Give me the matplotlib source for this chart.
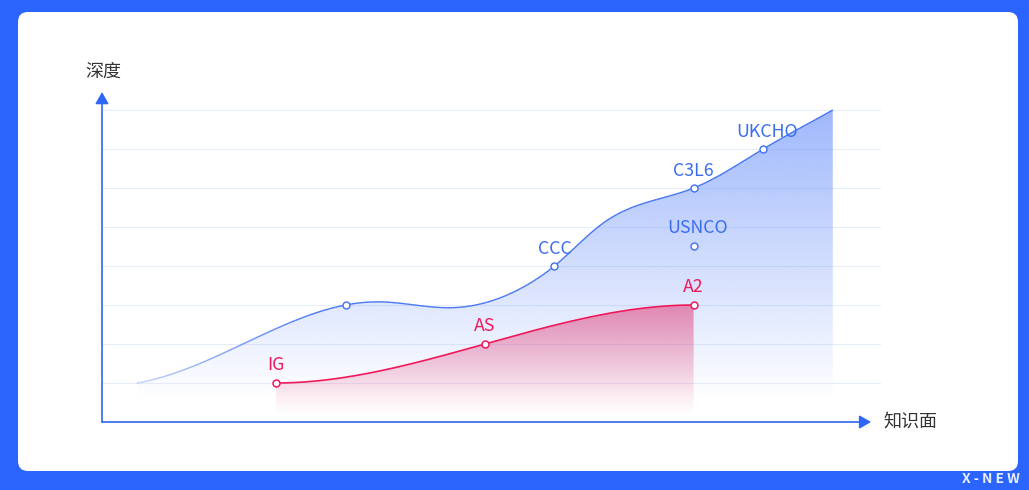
import numpy as np
import matplotlib
matplotlib.use('Agg')
import matplotlib.pyplot as plt
from matplotlib.patches import FancyBboxPatch, Polygon
from matplotlib.collections import LineCollection
from matplotlib.colors import to_rgb

plt.rcParams['font.family'] = ['Noto Sans CJK SC', 'DejaVu Sans']

# courbe bleue
blue_x = [1, 3.2, 7, 8.0, 10, 12.3, 13, 14.4, 17, 19, 21]
blue_y = [1.0, 1.65, 3.0, 3.08, 2.93, 3.56, 4.0, 5.1, 6.0, 7.0, 8.0]
blue_pts_x = [7, 13, 17, 19]
blue_pts_y = [3, 4, 6, 7]
blue_labels = ['', 'CCC', 'C3L6', 'UKCHO']
usnco_x, usnco_y = 17, 4.5

# courbe rouge
red_x = [5, 11, 17]
red_y = [1, 2, 3]
red_labels = ['IG', 'AS', 'A2']

grid_levels = [1, 2, 3, 4, 5, 6, 7, 8]

BLUE = '#3f70f4'
RED = '#f01a5b'
W, H = 1029, 490


def spline(xs, ys, s0, s1, n=400):
    # spline cubique avec pentes imposees aux bouts
    xs = np.asarray(xs, float)
    ys = np.asarray(ys, float)
    k = len(xs)
    h = np.diff(xs)
    A = np.zeros((k, k))
    r = np.zeros(k)
    A[0, 0], A[0, 1] = 2*h[0], h[0]
    r[0] = 6*((ys[1]-ys[0])/h[0] - s0)
    A[-1, -2], A[-1, -1] = h[-1], 2*h[-1]
    r[-1] = 6*(s1 - (ys[-1]-ys[-2])/h[-1])
    for i in range(1, k-1):
        A[i, i-1], A[i, i], A[i, i+1] = h[i-1], 2*(h[i-1]+h[i]), h[i]
        r[i] = 6*((ys[i+1]-ys[i])/h[i] - (ys[i]-ys[i-1])/h[i-1])
    M = np.linalg.solve(A, r)
    xx = np.linspace(xs[0], xs[-1], n)
    j = np.clip(np.searchsorted(xs, xx) - 1, 0, k-2)
    a = xs[j+1] - xx
    b = xx - xs[j]
    yy = (M[j]*a**3 + M[j+1]*b**3)/(6*h[j]) + (ys[j]/h[j] - M[j]*h[j]/6)*a \
        + (ys[j+1]/h[j] - M[j+1]*h[j]/6)*b
    return xx, yy


def gradient_fill(ax, x, y, color, a_top, y_top, y_zero, zorder):
    verts = np.vstack([np.column_stack([x, y]), [[x[-1], 0], [x[0], 0]]])
    poly = Polygon(verts, closed=True, facecolor='none', edgecolor='none')
    ax.add_patch(poly)
    r, g, b = to_rgb(color)
    lv = np.linspace(0, y_top, 300)
    img = np.zeros((300, 1, 4))
    img[:, :, 0], img[:, :, 1], img[:, :, 2] = r, g, b
    img[:, 0, 3] = a_top*np.clip((lv - y_zero)/(y_top - y_zero), 0, 1)
    im = ax.imshow(img, extent=[x[0], x[-1], 0, y_top], origin='lower',
                   aspect='auto', zorder=zorder, interpolation='bilinear')
    im.set_clip_path(poly)


fig = plt.figure(figsize=(W/100, H/100), dpi=100)
fig.patch.set_facecolor('#2b65fe')

bg = fig.add_axes([0, 0, 1, 1])
bg.set_xlim(0, W)
bg.set_ylim(H, 0)
bg.set_axis_off()
bg.add_patch(FancyBboxPatch((18, 12), 1000, 459, boxstyle='round,pad=0,rounding_size=10',
                            facecolor='white', edgecolor='none'))
bg.text(991, 479, 'X - N E W', color='white', fontsize=10, ha='center', va='center',
        fontweight='bold', alpha=0.9)

ux = 34.8
uy = 39
ax = fig.add_axes([102/W, (H-422)/H, (881-102)/W, 8.5*uy/H])
ax.set_facecolor('none')
xmax = (881-102)/ux

for lv in grid_levels:
    ax.axhline(lv, color='#e8edfa', lw=0.8, zorder=1)

# zone bleue
bx, by = spline(blue_x, blue_y, 0.15, 0.5)
gradient_fill(ax, bx, by, '#5f88fb', 0.6, 8.0, 0.6, 2)
t = np.clip((bx - 1) / 5.0, 0, 1)
alphas = 0.3 + 0.7*t
seg = np.stack([np.column_stack([bx[:-1], by[:-1]]), np.column_stack([bx[1:], by[1:]])], axis=1)
cols = [(*to_rgb(BLUE), a) for a in alphas[:-1]]
ax.add_collection(LineCollection(seg, colors=cols, lw=1.0, zorder=4))

# zone rouge
rx, ry = spline(red_x, red_y, 0.0, 0.0)
gradient_fill(ax, rx, ry, '#e2407a', 0.58, 3.0, 0.2, 3)
ax.plot(rx, ry, color=RED, lw=1.2, zorder=5)

ax.plot(blue_pts_x + [usnco_x], blue_pts_y + [usnco_y], ls='none', marker='o', ms=5,
        mfc='white', mec=BLUE, mew=1.0, zorder=6)
ax.plot(red_x, red_y, ls='none', marker='o', ms=5, mfc='white', mec=RED, mew=1.1, zorder=6)

for x, y, s in zip(blue_pts_x, blue_pts_y, blue_labels):
    if s:
        ax.annotate(s, (x, y), xytext=(3 if s == 'UKCHO' else 0, 12), textcoords='offset points',
                    ha='center', va='center', color='#3a6cf0', fontsize=12.8)
ax.annotate('USNCO', (usnco_x, usnco_y), xytext=(3, 13), textcoords='offset points',
            ha='center', va='center', color='#3a6cf0', fontsize=12.8)
for x, y, s in zip(red_x, red_y, red_labels):
    ax.annotate(s, (x, y), xytext=(0, 13), textcoords='offset points',
                ha='center', va='center', color=RED, fontsize=12.8)

# axes avec fleches
AX = '#2f66f6'
ax.annotate('', xy=(0, 8.46), xytext=(0, 0), annotation_clip=False,
            arrowprops=dict(arrowstyle='-|>,head_length=0.7,head_width=0.4', color=AX, lw=1.2,
                            shrinkA=0, shrinkB=0))
ax.annotate('', xy=(22.1, 0), xytext=(0, 0), annotation_clip=False,
            arrowprops=dict(arrowstyle='-|>,head_length=0.7,head_width=0.4', color=AX, lw=1.2,
                            shrinkA=0, shrinkB=0))
bg.text(103, 72, '深度', color='#333333', fontsize=13, ha='center', va='center')
bg.text(910, 422, '知识面', color='#333333', fontsize=13, ha='center', va='center')

ax.set_xlim(0, xmax)
ax.set_ylim(0, 8.5)
ax.set_axis_off()

fig.savefig('out.png', dpi=100)
